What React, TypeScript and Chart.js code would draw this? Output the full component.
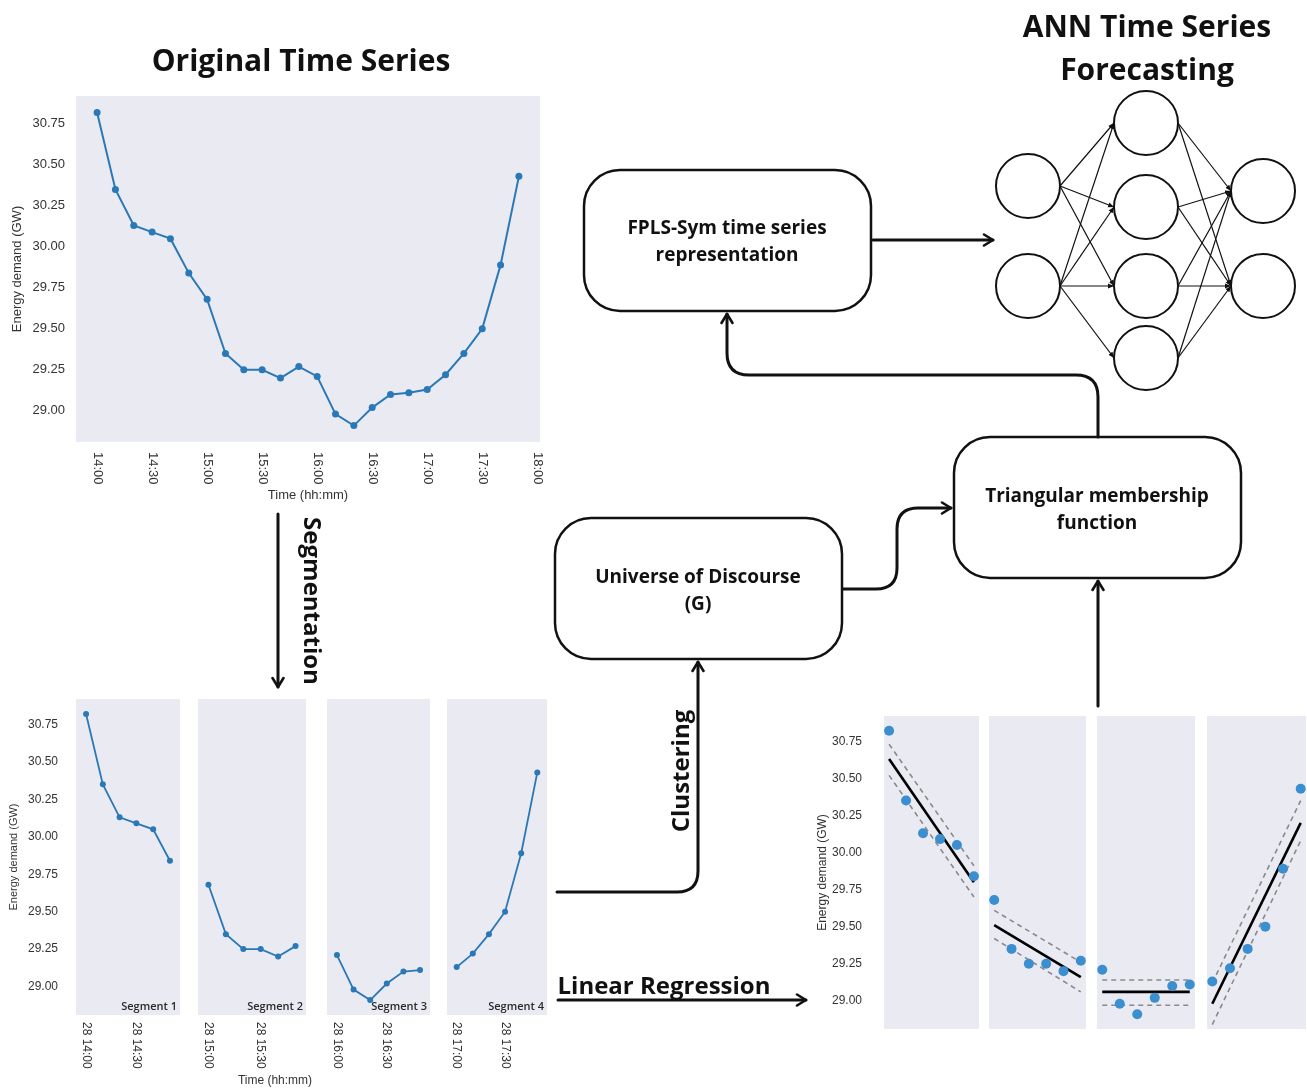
import React, { useEffect, useRef } from "react";
import { Chart, registerables } from "chart.js";

Chart.register(...registerables);

// ---------------- data ----------------
const times = [
  "14:00", "14:10", "14:20", "14:30", "14:40", "14:50",
  "15:00", "15:10", "15:20", "15:30", "15:40", "15:50",
  "16:00", "16:10", "16:20", "16:30", "16:40", "16:50",
  "17:00", "17:10", "17:20", "17:30", "17:40", "17:50",
];
const demandGW = [
  30.82, 30.35, 30.13, 30.09, 30.05, 29.84,
  29.68, 29.35, 29.25, 29.25, 29.2, 29.27,
  29.21, 28.98, 28.91, 29.02, 29.1, 29.11,
  29.13, 29.22, 29.35, 29.5, 29.89, 30.43,
];
const mainTickLabels = ["14:00", "14:30", "15:00", "15:30", "16:00", "16:30", "17:00", "17:30", "18:00"];
const yTickLabels = ["29.00", "29.25", "29.50", "29.75", "30.00", "30.25", "30.50", "30.75"];
const segmentNames = ["Segment 1", "Segment 2", "Segment 3", "Segment 4"];
const segmentTickLabels = [
  ["28 14:00", "28 14:30"],
  ["28 15:00", "28 15:30"],
  ["28 16:00", "28 16:30"],
  ["28 17:00", "28 17:30"],
];
const segmentLength = 6;
// linear regression fits per segment (start / end value) and their bands
const fitStart = [30.63, 29.51, 29.06, 28.98];
const fitEnd = [29.8, 29.16, 29.06, 30.2];
const upperStart = [30.73, 29.61, 29.14, 29.12];
const upperEnd = [29.91, 29.26, 29.14, 30.35];
const lowerStart = [30.52, 29.42, 28.97, 28.84];
const lowerEnd = [29.7, 29.06, 28.97, 30.08];

const Y_MIN = 28.81;
const Y_MAX = 30.92;

// ---------------- helpers ----------------
const TICK_FONT = "'Liberation Sans', Arial, sans-serif";
const DIAGRAM_FONT = "'Open Sans', sans-serif";
const TICK_COLOR = "#333333";
const PANEL_BG = "#eaeaf2";
const LINE_BLUE = "#2a78b6";
const DOT_BLUE = "#3c8fcf";

const toMin = (s: string) => {
  const hm = (s.split(" ").pop() as string).split(":");
  return (Number(hm[0]) - 14) * 60 + Number(hm[1]);
};

type PanelOpts = {
  canvas: HTMLCanvasElement;
  datasets: any[];
  xMin: number;
  xMax: number;
  xAxisHeight: number;
  xTicks?: { values: number[]; labels: string[]; size: number; gap: number };
  xTitle?: { text: string; size: number; pad: number };
  yAxis?: { width: number; tickSize: number; tickPad: number; titleSize: number; titlePad: number };
  padding: { top: number; right: number; bottom: number; left: number };
  cornerText?: string;
};

function makePanel(o: PanelOpts) {
  const plugins: any[] = [
    {
      id: "panelBg",
      beforeDraw(chart: any) {
        const { ctx, chartArea: a } = chart;
        ctx.save();
        ctx.fillStyle = PANEL_BG;
        ctx.fillRect(a.left, a.top, a.right - a.left, a.bottom - a.top);
        ctx.restore();
      },
    },
    {
      id: "cwTicks",
      afterDraw(chart: any) {
        const { ctx, chartArea: a, scales } = chart;
        if (o.xTicks) {
          const t = o.xTicks;
          ctx.save();
          ctx.font = `${t.size}px ${TICK_FONT}`;
          ctx.fillStyle = TICK_COLOR;
          ctx.textAlign = "left";
          ctx.textBaseline = "middle";
          t.values.forEach((v, i) => {
            const px = scales.x.getPixelForValue(v);
            ctx.save();
            ctx.translate(px, a.bottom + t.gap);
            ctx.rotate(Math.PI / 2);
            ctx.fillText(t.labels[i], 0, 0);
            ctx.restore();
          });
          ctx.restore();
        }
        if (o.cornerText) {
          ctx.save();
          ctx.font = `600 11px ${DIAGRAM_FONT}`;
          ctx.fillStyle = "#2a2a2a";
          ctx.textAlign = "right";
          ctx.textBaseline = "alphabetic";
          ctx.fillText(o.cornerText, a.right - 3, a.bottom - 5);
          ctx.restore();
        }
      },
    },
  ];

  const y = o.yAxis;
  return new Chart(o.canvas, {
    type: "line",
    data: { datasets: o.datasets.map((d) => ({ clip: false, ...d })) },
    options: {
      animation: false,
      responsive: false,
      maintainAspectRatio: false,
      layout: { padding: o.padding, autoPadding: false },
      plugins: { legend: { display: false }, tooltip: { enabled: false } },
      scales: {
        x: {
          type: "linear",
          min: o.xMin,
          max: o.xMax,
          display: o.xAxisHeight > 0,
          grid: { display: false, drawTicks: false },
          border: { display: false },
          ticks: { display: false },
          title: o.xTitle
            ? {
                display: true,
                text: o.xTitle.text,
                color: TICK_COLOR,
                font: { family: TICK_FONT, size: o.xTitle.size },
                padding: { top: 0, bottom: o.xTitle.pad },
              }
            : { display: false },
          afterFit: (s: any) => {
            s.height = o.xAxisHeight;
            s.paddingLeft = 0;
            s.paddingRight = 0;
            s.paddingTop = 0;
            s.paddingBottom = 0;
          },
        },
        y: {
          type: "linear",
          min: Y_MIN,
          max: Y_MAX,
          display: !!y,
          grid: { display: false, drawTicks: false },
          border: { display: false },
          afterBuildTicks: (s: any) => {
            s.ticks = yTickLabels.map((l) => ({ value: Number(l) }));
          },
          ticks: {
            color: TICK_COLOR,
            font: { family: TICK_FONT, size: y ? y.tickSize : 12 },
            padding: y ? y.tickPad : 0,
            callback: (_v: any, i: number) => yTickLabels[i],
          },
          title: y
            ? {
                display: true,
                text: "Energy demand (GW)",
                color: TICK_COLOR,
                font: { family: TICK_FONT, size: y.titleSize },
                padding: { top: y.titlePad, bottom: 0 },
              }
            : { display: false },
          afterFit: (s: any) => {
            if (y) s.width = y.width;
            s.paddingTop = 0;
            s.paddingBottom = 0;
            s.paddingLeft = 0;
            s.paddingRight = 0;
          },
        },
      },
    } as any,
    plugins,
  });
}

// ---------------- layout (positions only) ----------------
const SEG_PANELS = [
  { left: 0, width: 180 },
  { left: 198, width: 108 },
  { left: 327, width: 103 },
  { left: 447, width: 100 },
];
const REG_PANELS = [
  { left: 800, width: 179 },
  { left: 989, width: 97 },
  { left: 1097, width: 98 },
  { left: 1207, width: 99 },
];

const NN_IN = [[1028, 186], [1028, 286]];
const NN_HID = [[1146, 123], [1146, 207], [1146, 286], [1146, 358]];
const NN_OUT = [[1263, 191], [1263, 286]];
const NN_R = 32;

function Txt(props: {
  x: number; y: number; size: number; children: any; rotate?: number; weight?: number;
  family?: string; color?: string; lh?: number;
}) {
  const { x, y, size, children, rotate = 0, weight = 700, family = DIAGRAM_FONT, color = "#111", lh } = props;
  return (
    <div
      style={{
        position: "absolute",
        left: x,
        top: y,
        transform: `translate(-50%, -50%) rotate(${rotate}deg)`,
        fontFamily: family,
        fontWeight: weight,
        fontSize: size,
        color,
        whiteSpace: "nowrap",
        textAlign: "center",
        lineHeight: lh ? `${lh}px` : 1.2,
      }}
    >
      {children}
    </div>
  );
}

export default function App() {
  const mainRef = useRef<HTMLCanvasElement | null>(null);
  const segRefs = useRef<(HTMLCanvasElement | null)[]>([]);
  const regRefs = useRef<(HTMLCanvasElement | null)[]>([]);

  useEffect(() => {
    const charts: Chart[] = [];
    const pts = times.map((t, i) => ({ x: toMin(t), y: demandGW[i] }));

    // main chart
    if (mainRef.current) {
      charts.push(
        makePanel({
          canvas: mainRef.current,
          datasets: [
            {
              data: pts,
              borderColor: LINE_BLUE,
              backgroundColor: LINE_BLUE,
              borderWidth: 2,
              pointRadius: 3.5,
              pointBorderWidth: 0,
              tension: 0,
            },
          ],
          xMin: -11.5,
          xMax: 241.5,
          xAxisHeight: 68,
          xTicks: { values: mainTickLabels.map(toMin), labels: mainTickLabels, size: 13, gap: 10 },
          xTitle: { text: "Time (hh:mm)", size: 13, pad: 7 },
          yAxis: { width: 76, tickSize: 13, tickPad: 11, titleSize: 13, titlePad: 10 },
          padding: { top: 6, right: 20, bottom: 0, left: 0 },
        })
      );
    }

    // segment charts
    SEG_PANELS.forEach((p, k) => {
      const c = segRefs.current[k];
      if (!c) return;
      const segPts = pts.slice(k * segmentLength, (k + 1) * segmentLength);
      const start = segPts[0].x;
      charts.push(
        makePanel({
          canvas: c,
          datasets: [
            {
              data: segPts,
              borderColor: LINE_BLUE,
              backgroundColor: LINE_BLUE,
              borderWidth: 1.8,
              pointRadius: 3,
              pointBorderWidth: 0,
              tension: 0,
            },
          ],
          xMin: start - 6,
          xMax: start + 56,
          xAxisHeight: 74,
          xTicks: {
            values: segmentTickLabels[k].map(toMin),
            labels: segmentTickLabels[k],
            size: 12,
            gap: 7,
          },
          yAxis: k === 0 ? { width: 76, tickSize: 12, tickPad: 18, titleSize: 11, titlePad: 7 } : undefined,
          padding: { top: 9, right: 0, bottom: 0, left: 0 },
          cornerText: segmentNames[k],
        })
      );
    });

    // regression charts
    REG_PANELS.forEach((p, k) => {
      const c = regRefs.current[k];
      if (!c) return;
      const segPts = pts.slice(k * segmentLength, (k + 1) * segmentLength);
      const x0 = segPts[0].x;
      const x1 = segPts[segPts.length - 1].x;
      charts.push(
        makePanel({
          canvas: c,
          datasets: [
            {
              data: segPts,
              showLine: false,
              backgroundColor: DOT_BLUE,
              borderColor: DOT_BLUE,
              pointRadius: 5,
              pointBorderWidth: 0,
            },
            {
              data: [{ x: x0, y: fitStart[k] }, { x: x1, y: fitEnd[k] }],
              borderColor: "#000000",
              borderWidth: 2.6,
              pointRadius: 0,
            },
            {
              data: [{ x: x0, y: upperStart[k] }, { x: x1, y: upperEnd[k] }],
              borderColor: "#8a8a8a",
              borderWidth: 1.6,
              borderDash: [5, 4],
              pointRadius: 0,
            },
            {
              data: [{ x: x0, y: lowerStart[k] }, { x: x1, y: lowerEnd[k] }],
              borderColor: "#8a8a8a",
              borderWidth: 1.6,
              borderDash: [5, 4],
              pointRadius: 0,
            },
          ],
          xMin: x0 - 3,
          xMax: x0 + 53,
          xAxisHeight: 0,
          yAxis: k === 0 ? { width: 84, tickSize: 12, tickPad: 22, titleSize: 12, titlePad: 15 } : undefined,
          padding: { top: 0, right: 0, bottom: 0, left: 0 },
        })
      );
    });

    return () => charts.forEach((ch) => ch.destroy());
  }, []);

  const nnEdges: [number[], number[]][] = [];
  NN_IN.forEach((a, i) =>
    NN_HID.forEach((b, j) => {
      if (!(i === 0 && j === 3)) nnEdges.push([a, b]);
    })
  );
  NN_HID.forEach((a) => NN_OUT.forEach((b) => nnEdges.push([a, b])));

  return (
    <div
      style={{
        position: "absolute",
        left: 0,
        top: 0,
        width: 1307,
        height: 1089,
        background: "#ffffff",
        overflow: "hidden",
      }}
    >
      <canvas
        ref={mainRef}
        width={560}
        height={420}
        style={{ position: "absolute", left: 0, top: 90, width: 560, height: 420 }}
      />
      {SEG_PANELS.map((p, k) => (
        <canvas
          key={"s" + k}
          ref={(el) => {
            segRefs.current[k] = el;
          }}
          width={p.width}
          height={399}
          style={{ position: "absolute", left: p.left, top: 690, width: p.width, height: 399 }}
        />
      ))}
      {REG_PANELS.map((p, k) => (
        <canvas
          key={"r" + k}
          ref={(el) => {
            regRefs.current[k] = el;
          }}
          width={p.width}
          height={313}
          style={{ position: "absolute", left: p.left, top: 716, width: p.width, height: 313 }}
        />
      ))}

      <svg
        width={1307}
        height={1089}
        style={{ position: "absolute", left: 0, top: 0, pointerEvents: "none" }}
      >
        <defs>
          <marker
            id="arrow"
            viewBox="0 0 14 14"
            refX="12"
            refY="7"
            markerWidth="14"
            markerHeight="14"
            orient="auto"
            markerUnits="userSpaceOnUse"
          >
            <path d="M3,1.5 L12,7 L3,12.5" fill="none" stroke="#111" strokeWidth="2.6" strokeLinecap="round" strokeLinejoin="round" />
          </marker>
          <marker
            id="nnArrow"
            viewBox="0 0 6 6"
            refX="6"
            refY="3"
            markerWidth="6"
            markerHeight="6"
            orient="auto"
            markerUnits="userSpaceOnUse"
          >
            <path d="M0,0.5 L6,3 L0,5.5 z" fill="#111" />
          </marker>
        </defs>

        {/* boxes */}
        <rect x={584} y={170} width={287} height={141} rx={36} fill="none" stroke="#111" strokeWidth={2.5} />
        <rect x={555} y={518} width={287} height={141} rx={36} fill="none" stroke="#111" strokeWidth={2.5} />
        <rect x={954} y={437} width={287} height={141} rx={36} fill="none" stroke="#111" strokeWidth={2.5} />

        {/* connectors */}
        <g fill="none" stroke="#111" strokeWidth={3} strokeLinecap="round">
          <path d="M873,240 H993" markerEnd="url(#arrow)" />
          <path d="M1098,437 V397 Q1098,375 1076,375 H749 Q727,375 727,353 V314" markerEnd="url(#arrow)" />
          <path d="M843,589 H876 Q897,589 897,568 V529 Q897,508 918,508 H951" markerEnd="url(#arrow)" />
          <path d="M557,892 H677 Q698,892 698,871 V662" markerEnd="url(#arrow)" />
          <path d="M558,1000 H806" markerEnd="url(#arrow)" />
          <path d="M1098,706 V581" markerEnd="url(#arrow)" />
          <path d="M278,514 V687" markerEnd="url(#arrow)" />
        </g>

        {/* neural network */}
        <g stroke="#111" strokeWidth={1.2} fill="none">
          {nnEdges.map(([a, b], i) => (
            <line
              key={"e" + i}
              x1={a[0] + NN_R}
              y1={a[1]}
              x2={b[0] - NN_R}
              y2={b[1]}
              markerEnd="url(#nnArrow)"
            />
          ))}
        </g>
        <g stroke="#111" strokeWidth={2} fill="#ffffff">
          {[...NN_IN, ...NN_HID, ...NN_OUT].map((c, i) => (
            <ellipse key={"n" + i} cx={c[0]} cy={c[1]} rx={NN_R} ry={NN_R} />
          ))}
        </g>
      </svg>

      {/* titles and labels */}
      <Txt x={301} y={60} size={30}>Original Time Series</Txt>
      <Txt x={1147} y={47} size={30} lh={43}>
        ANN Time Series
        <br />
        Forecasting
      </Txt>
      <Txt x={727} y={241} size={19} lh={27}>
        FPLS-Sym time series
        <br />
        representation
      </Txt>
      <Txt x={698} y={590} size={19} lh={27}>
        Universe of Discourse
        <br />
        (G)
      </Txt>
      <Txt x={1097} y={509} size={19} lh={27}>
        Triangular membership
        <br />
        function
      </Txt>
      <Txt x={313} y={601} size={24} rotate={90}>Segmentation</Txt>
      <Txt x={680} y={771} size={24} rotate={-90}>Clustering</Txt>
      <Txt x={664} y={985} size={24}>Linear Regression</Txt>
      <Txt x={275} y={1080} size={12} weight={400} family={TICK_FONT} color={TICK_COLOR}>
        Time (hh:mm)
      </Txt>
    </div>
  );
}
